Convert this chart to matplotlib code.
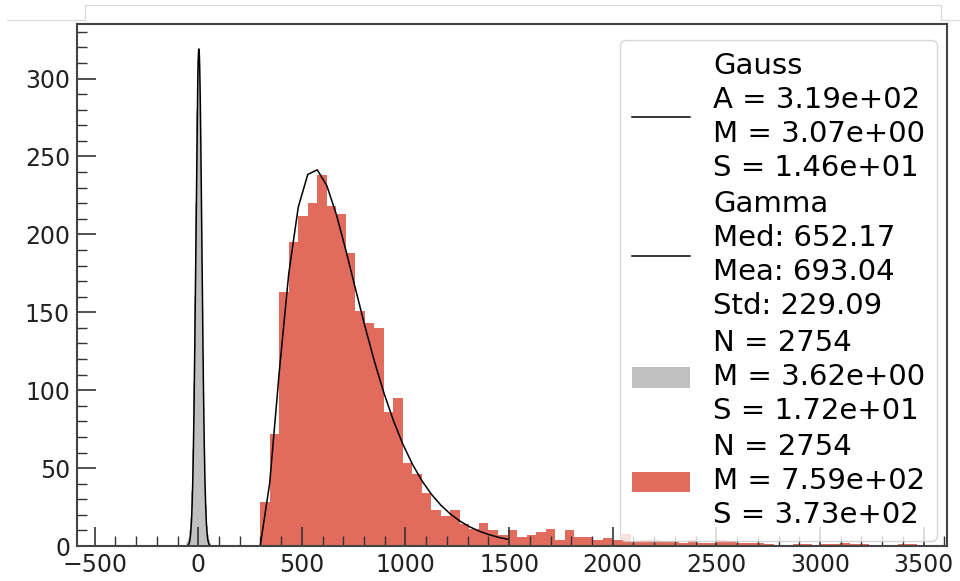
import math
import numpy as np
import matplotlib
matplotlib.use("Agg")
import matplotlib.pyplot as plt
from matplotlib.lines import Line2D
from matplotlib.patches import Patch
from matplotlib.ticker import MultipleLocator

# ---------------- data ----------------
# red histogram (signal): uniform bins
red_start = 299.0
red_width = 45.9
red_counts = [28, 72, 163, 195, 212, 220, 238, 218, 213, 188,
              151, 143, 140, 86, 95, 53, 46, 34, 23, 19,
              23, 14, 11, 15, 10, 7, 10, 6, 7, 9,
              11, 4, 10, 6, 6, 4, 5, 4, 8, 3,
              4, 4, 3, 3, 2, 4, 2, 2, 4, 3,
              2, 2, 2, 1, 0, 0, 1, 1, 0, 1,
              1, 2, 1, 1, 0, 0, 0, 1, 1]

# grey histogram (pedestal): bins of width 5 from -60
grey_start = -60.0
grey_width = 5.0
grey_counts = [2, 3, 5, 10, 18, 35, 62, 105, 160, 220, 280, 312,
               319, 300, 255, 195, 135, 85, 50, 26, 13, 7, 4, 2]

# fit parameters (from legend)
gauss_A, gauss_M, gauss_S = 319.0, 3.07, 14.6
gamma_loc, gamma_k, gamma_theta, gamma_area = 299.0, 2.958, 133.2, 118000.0
gamma_nbins = 26

legend_labels = [
    "Gauss\nA = 3.19e+02\nM = 3.07e+00\nS = 1.46e+01",
    "Gamma\nMed: 652.17\nMea: 693.04\nStd: 229.09",
    "N = 2754\nM = 3.62e+00\nS = 1.72e+01",
    "N = 2754\nM = 7.59e+02\nS = 3.73e+02",
]

red_color = "#E16C5E"
grey_color = "#C0C0C0"

# ---------------- figure ----------------
fig = plt.figure(figsize=(9.6, 5.81), dpi=100)
ax = fig.add_axes([77/960, 35/581, (947-77)/960, (546-24)/581])

red_edges = red_start + red_width * np.arange(len(red_counts) + 1)
ax.hist(red_edges[:-1] + red_width/2, bins=red_edges, weights=red_counts,
        color=red_color, linewidth=0)

grey_edges = grey_start + grey_width * np.arange(len(grey_counts) + 1)
ax.hist(grey_edges[:-1] + grey_width/2, bins=grey_edges, weights=grey_counts,
        color=grey_color, linewidth=0)

# Gauss fit curve
xg = np.linspace(-60, 66, 300)
yg = gauss_A * np.exp(-0.5 * ((xg - gauss_M) / gauss_S) ** 2)
ax.plot(xg, yg, color="black", lw=1.1)

# Gamma fit curve evaluated at bin edges
xgam = red_edges[:gamma_nbins + 1]
z = np.clip((xgam - gamma_loc) / gamma_theta, 0, None)
pdf = z ** (gamma_k - 1) * np.exp(-z) / (math.gamma(gamma_k) * gamma_theta)
ax.plot(xgam, gamma_area * pdf, color="black", lw=1.1)

ax.set_xlim(-585, 3613)
ax.set_ylim(0, 335)

ax.xaxis.set_major_locator(MultipleLocator(500))
ax.xaxis.set_minor_locator(MultipleLocator(100))
ax.yaxis.set_major_locator(MultipleLocator(50))
ax.yaxis.set_minor_locator(MultipleLocator(10))
ax.tick_params(which="both", direction="in", top=False, right=False,
               colors="#333333", labelcolor="#222222", labelsize=17)
ax.tick_params(which="major", length=14, width=1.2, pad=5)
ax.tick_params(which="minor", length=7, width=1.0)
for s in ax.spines.values():
    s.set_color("#444444")
    s.set_linewidth(1.5)

handles = [Line2D([], [], color="black", lw=1.1),
           Line2D([], [], color="black", lw=1.1),
           Patch(facecolor=grey_color, edgecolor="none"),
           Patch(facecolor=red_color, edgecolor="none")]
leg = ax.legend(handles, legend_labels, loc="upper right", fontsize=21,
                bbox_to_anchor=(0.9885, 0.9693), borderaxespad=0,
                framealpha=0.8, labelspacing=0.3, borderpad=0.4)
for t in leg.get_texts():
    t.set_linespacing(1.27)

# notebook-like frame lines at top
fx = lambda p: p / 960
fy = lambda p: 1 - p / 581
fig.add_artist(Line2D([fx(7), fx(85), fx(85), fx(941), fx(941), fx(960)],
                      [fy(20), fy(20), fy(5), fy(5), fy(20), fy(20)],
                      transform=fig.transFigure, color="#DADADA", lw=0.9))

fig.savefig("out.png", dpi=100)
